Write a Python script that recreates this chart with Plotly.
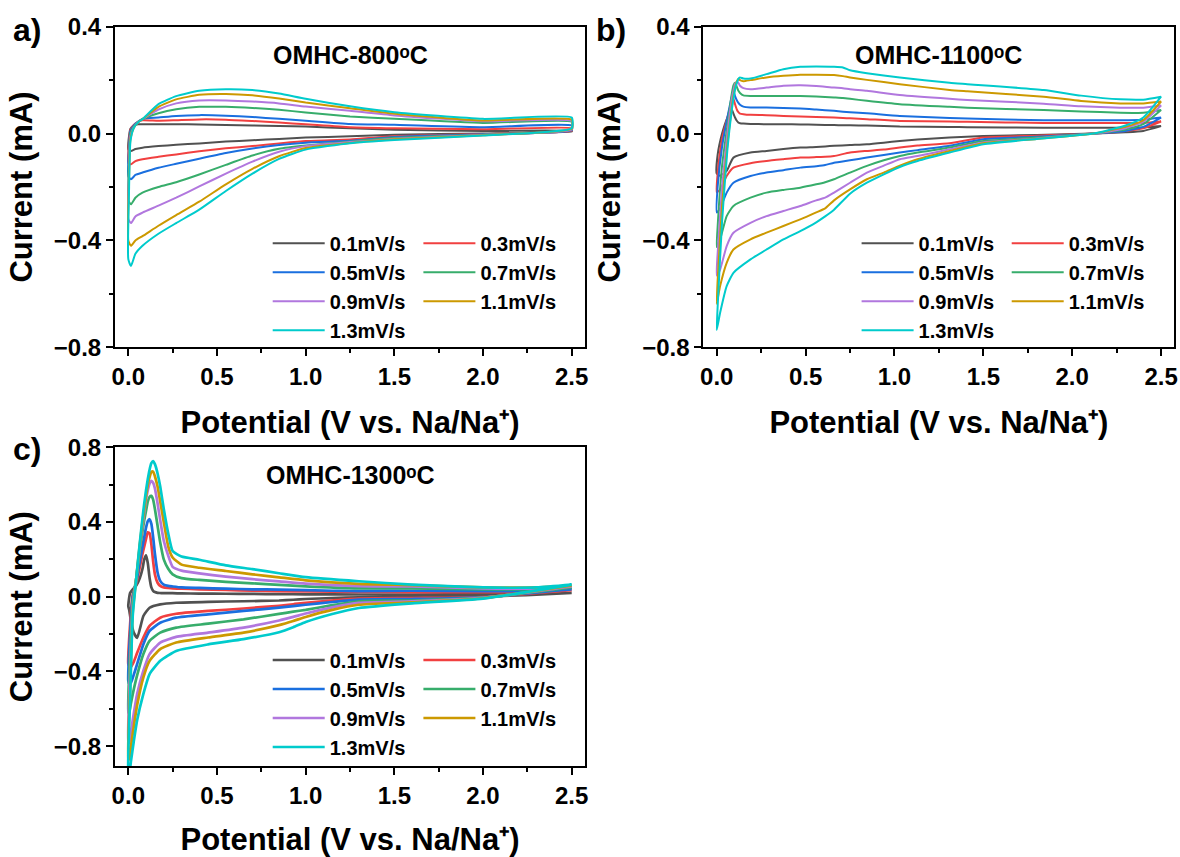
import plotly.graph_objects as go

RATES = ["0.1mV/s", "0.3mV/s", "0.5mV/s", "0.7mV/s", "0.9mV/s", "1.1mV/s", "1.3mV/s"]
COLORS = ["#515151", "#F14040", "#1A6FDF", "#37AD6B", "#B177DE", "#CC9900", "#00CBCC"]

# ---------------- Panel a: OMHC-800°C ----------------
A_CATH_V = [2.5, 2.0, 1.5, 1.25, 1.0, 0.85, 0.7, 0.55, 0.4, 0.27, 0.17, 0.08, 0.04, 0.015]
A_CATH_I = [
    [0.008, 0.0, -0.004, -0.01, -0.015, -0.02, -0.025, -0.03, -0.037, -0.042, -0.047, -0.053, -0.058, -0.065],
    [0.01, -0.002, -0.01, -0.022, -0.028, -0.037, -0.047, -0.055, -0.066, -0.078, -0.087, -0.096, -0.103, -0.115],
    [0.012, -0.003, -0.013, -0.027, -0.034, -0.043, -0.056, -0.073, -0.094, -0.113, -0.128, -0.146, -0.155, -0.171],
    [0.015, -0.004, -0.016, -0.03, -0.045, -0.057, -0.082, -0.117, -0.153, -0.182, -0.2, -0.221, -0.24, -0.265],
    [0.015, -0.005, -0.019, -0.032, -0.047, -0.068, -0.105, -0.15, -0.198, -0.24, -0.27, -0.296, -0.31, -0.335],
    [0.018, -0.006, -0.021, -0.035, -0.054, -0.085, -0.132, -0.19, -0.255, -0.305, -0.345, -0.384, -0.4, -0.42],
    [0.02, -0.007, -0.024, -0.036, -0.06, -0.095, -0.15, -0.215, -0.285, -0.335, -0.375, -0.42, -0.45, -0.496],
]
A_ANOD_V = [0.0, 0.004, 0.012, 0.03, 0.055, 0.08, 0.17, 0.27, 0.4, 0.55, 0.7, 0.85, 1.0, 1.25, 1.5, 2.0, 2.5]
A_ANOD_I = [
    [-0.06, -0.01, 0.018, 0.03, 0.035, 0.035, 0.035, 0.035, 0.034, 0.032, 0.03, 0.028, 0.026, 0.02, 0.014, 0.01, 0.01],
    [-0.11, -0.03, 0.015, 0.032, 0.044, 0.05, 0.048, 0.05, 0.053, 0.052, 0.047, 0.041, 0.035, 0.024, 0.02, 0.016, 0.02],
    [-0.16, -0.05, 0.01, 0.03, 0.045, 0.055, 0.06, 0.066, 0.069, 0.067, 0.062, 0.055, 0.048, 0.036, 0.033, 0.024, 0.03],
    [-0.25, -0.1, 0.0, 0.025, 0.043, 0.054, 0.076, 0.091, 0.1, 0.1, 0.096, 0.089, 0.079, 0.064, 0.055, 0.04, 0.044],
    [-0.32, -0.14, -0.01, 0.022, 0.042, 0.054, 0.09, 0.113, 0.124, 0.124, 0.12, 0.113, 0.101, 0.085, 0.068, 0.046, 0.047],
    [-0.40, -0.18, -0.02, 0.02, 0.042, 0.054, 0.1, 0.128, 0.145, 0.148, 0.143, 0.131, 0.116, 0.095, 0.074, 0.049, 0.052],
    [-0.47, -0.22, -0.03, 0.02, 0.042, 0.054, 0.11, 0.14, 0.16, 0.166, 0.163, 0.15, 0.13, 0.102, 0.08, 0.055, 0.06],
]

# ---------------- Panel b: OMHC-1100°C ----------------
B_CATH_V = [2.5, 2.4, 2.3, 2.12, 1.8, 1.5, 1.31, 1.13, 1.03, 0.94, 0.845, 0.75, 0.66, 0.61, 0.56, 0.47, 0.375, 0.28, 0.19, 0.094, 0.056, 0.019]
B_CATH_I = [
    [0.028, 0.01, 0.005, 0.0, -0.005, -0.009, -0.015, -0.022, -0.0275, -0.034, -0.04, -0.043, -0.046, -0.048, -0.05, -0.0525, -0.058, -0.065, -0.071, -0.09, -0.14, -0.158],
    [0.045, 0.02, 0.01, 0.0, -0.008, -0.015, -0.036, -0.045, -0.0525, -0.06, -0.065, -0.071, -0.084, -0.087, -0.088, -0.09, -0.096, -0.1025, -0.111, -0.1275, -0.159, -0.21],
    [0.06, 0.025, 0.01, 0.0, -0.012, -0.021, -0.046, -0.062, -0.071, -0.08, -0.09, -0.1, -0.109, -0.118, -0.122, -0.1275, -0.137, -0.146, -0.159, -0.184, -0.221, -0.28],
    [0.088, 0.035, 0.015, 0.0, -0.015, -0.028, -0.0525, -0.071, -0.084, -0.1, -0.121, -0.146, -0.171, -0.182, -0.19, -0.2025, -0.211, -0.221, -0.24, -0.271, -0.309, -0.396],
    [0.105, 0.045, 0.02, 0.0, -0.018, -0.033, -0.059, -0.084, -0.096, -0.12, -0.146, -0.184, -0.221, -0.24, -0.25, -0.271, -0.29, -0.309, -0.334, -0.371, -0.421, -0.509],
    [0.12, 0.05, 0.025, 0.0, -0.02, -0.036, -0.065, -0.096, -0.12, -0.146, -0.171, -0.209, -0.25, -0.28, -0.295, -0.321, -0.346, -0.371, -0.396, -0.434, -0.484, -0.571],
    [0.138, 0.06, 0.03, 0.0, -0.02, -0.04, -0.071, -0.1025, -0.125, -0.1525, -0.184, -0.225, -0.285, -0.31, -0.332, -0.365, -0.396, -0.434, -0.471, -0.521, -0.571, -0.671],
]
B_ANOD_V = [0.0, 0.005, 0.03, 0.06, 0.085, 0.094, 0.103, 0.113, 0.122, 0.131, 0.15, 0.19, 0.28, 0.375, 0.47, 0.56, 0.66, 0.71, 0.75, 0.845, 1.03, 1.31, 1.41, 1.84, 2.05, 2.27, 2.4, 2.5]
B_ANOD_I = [
    [-0.15, -0.08, 0.0, 0.06, 0.09, 0.075, 0.06, 0.048, 0.041, 0.039, 0.0375, 0.036, 0.035, 0.035, 0.034, 0.033, 0.032, 0.031, 0.031, 0.03, 0.026, 0.025, 0.024, 0.022, 0.022, 0.022, 0.023, 0.028],
    [-0.22, -0.15, -0.02, 0.06, 0.12, 0.129, 0.11, 0.09, 0.08, 0.075, 0.0725, 0.07, 0.069, 0.066, 0.064, 0.062, 0.06, 0.058, 0.057, 0.054, 0.0475, 0.045, 0.044, 0.04, 0.04, 0.04, 0.04, 0.045],
    [-0.295, -0.2, -0.05, 0.06, 0.14, 0.16, 0.14, 0.125, 0.115, 0.108, 0.101, 0.098, 0.0975, 0.096, 0.094, 0.09, 0.085, 0.082, 0.08, 0.076, 0.066, 0.058, 0.056, 0.05, 0.05, 0.05, 0.052, 0.06],
    [-0.425, -0.35, -0.12, 0.03, 0.15, 0.18, 0.19, 0.175, 0.16, 0.152, 0.143, 0.141, 0.141, 0.141, 0.141, 0.139, 0.135, 0.133, 0.13, 0.1225, 0.11, 0.1, 0.097, 0.088, 0.083, 0.078, 0.078, 0.088],
    [-0.531, -0.45, -0.2, 0.0, 0.13, 0.16, 0.185, 0.195, 0.19, 0.179, 0.17, 0.166, 0.172, 0.179, 0.181, 0.178, 0.172, 0.17, 0.166, 0.16, 0.144, 0.13, 0.126, 0.112, 0.102, 0.097, 0.097, 0.105],
    [-0.637, -0.55, -0.27, -0.04, 0.1, 0.14, 0.17, 0.195, 0.205, 0.2, 0.196, 0.2, 0.21, 0.216, 0.22, 0.22, 0.219, 0.215, 0.21, 0.201, 0.185, 0.163, 0.158, 0.138, 0.122, 0.113, 0.113, 0.12],
    [-0.735, -0.65, -0.33, -0.06, 0.09, 0.13, 0.165, 0.19, 0.205, 0.21, 0.206, 0.206, 0.2225, 0.241, 0.25, 0.251, 0.25, 0.2475, 0.237, 0.226, 0.21, 0.19, 0.185, 0.163, 0.142, 0.128, 0.127, 0.138],
]

# ---------------- Panel c: OMHC-1300°C ----------------
C_CATH_V = [2.5, 2.0, 1.6, 1.3, 1.15, 1.0, 0.93, 0.85, 0.65, 0.45, 0.27, 0.18, 0.12, 0.085, 0.05, 0.03, 0.015, 0.005]
C_CATH_I = [
    [0.02, 0.0, -0.002, -0.003, -0.007, -0.012, -0.016, -0.02, -0.024, -0.027, -0.032, -0.041, -0.059, -0.103, -0.22, -0.19, -0.13, -0.07],
    [0.035, -0.002, -0.007, -0.01, -0.02, -0.032, -0.04, -0.048, -0.063, -0.076, -0.091, -0.112, -0.156, -0.218, -0.3, -0.35, -0.375, -0.37],
    [0.04, -0.003, -0.012, -0.015, -0.028, -0.043, -0.05, -0.058, -0.076, -0.094, -0.112, -0.139, -0.183, -0.254, -0.36, -0.42, -0.46, -0.465],
    [0.05, -0.005, -0.02, -0.024, -0.045, -0.07, -0.08, -0.092, -0.121, -0.144, -0.165, -0.192, -0.236, -0.307, -0.42, -0.5, -0.57, -0.62],
    [0.055, -0.006, -0.025, -0.033, -0.057, -0.09, -0.108, -0.127, -0.165, -0.192, -0.215, -0.245, -0.307, -0.396, -0.52, -0.63, -0.72, -0.78],
    [0.06, -0.008, -0.03, -0.043, -0.07, -0.108, -0.13, -0.152, -0.192, -0.218, -0.245, -0.28, -0.343, -0.432, -0.58, -0.7, -0.8, -0.87],
    [0.065, -0.01, -0.035, -0.06, -0.092, -0.135, -0.163, -0.19, -0.227, -0.255, -0.29, -0.343, -0.414, -0.52, -0.66, -0.78, -0.88, -0.95],
]
C_ANOD_V = [0.0, 0.01, 0.025, 0.045, 0.065, 0.08, 0.09, 0.1, 0.11, 0.12, 0.13, 0.14, 0.15, 0.165, 0.18, 0.2, 0.225, 0.25, 0.3, 0.4, 0.55, 0.7, 0.85, 1.0, 1.3, 1.6, 2.0, 2.3, 2.5]
C_ANOD_I = [
    [-0.05, 0.02, 0.04, 0.06, 0.1, 0.15, 0.2, 0.222, 0.18, 0.1, 0.05, 0.032, 0.025, 0.021, 0.02, 0.019, 0.019, 0.019, 0.018, 0.017, 0.016, 0.015, 0.014, 0.013, 0.012, 0.012, 0.013, 0.015, 0.02],
    [-0.36, -0.15, 0.01, 0.07, 0.16, 0.23, 0.27, 0.31, 0.345, 0.34, 0.28, 0.19, 0.12, 0.075, 0.058, 0.05, 0.047, 0.045, 0.043, 0.04, 0.036, 0.033, 0.03, 0.028, 0.026, 0.025, 0.025, 0.026, 0.035],
    [-0.45, -0.2, 0.0, 0.08, 0.19, 0.27, 0.32, 0.37, 0.405, 0.415, 0.39, 0.32, 0.23, 0.13, 0.085, 0.065, 0.058, 0.055, 0.05, 0.047, 0.043, 0.04, 0.038, 0.035, 0.03, 0.032, 0.03, 0.03, 0.04],
    [-0.62, -0.3, -0.02, 0.1, 0.25, 0.35, 0.41, 0.46, 0.51, 0.535, 0.54, 0.52, 0.47, 0.38, 0.29, 0.2, 0.15, 0.12, 0.1, 0.09, 0.08, 0.072, 0.064, 0.056, 0.045, 0.045, 0.04, 0.04, 0.05],
    [-0.78, -0.4, -0.05, 0.1, 0.27, 0.38, 0.45, 0.52, 0.57, 0.605, 0.62, 0.61, 0.58, 0.5, 0.41, 0.3, 0.22, 0.16, 0.14, 0.125, 0.108, 0.094, 0.082, 0.07, 0.057, 0.055, 0.045, 0.045, 0.055],
    [-0.87, -0.5, -0.08, 0.1, 0.28, 0.4, 0.47, 0.54, 0.6, 0.64, 0.668, 0.67, 0.645, 0.59, 0.51, 0.4, 0.27, 0.21, 0.172, 0.155, 0.138, 0.12, 0.104, 0.088, 0.069, 0.062, 0.05, 0.05, 0.06],
    [-0.95, -0.55, -0.1, 0.1, 0.29, 0.42, 0.5, 0.57, 0.63, 0.68, 0.715, 0.726, 0.71, 0.66, 0.59, 0.47, 0.34, 0.245, 0.215, 0.198, 0.168, 0.148, 0.126, 0.105, 0.083, 0.065, 0.05, 0.05, 0.065],
]

TITLES = ["OMHC-800\u1d52C", "OMHC-1100\u1d52C", "OMHC-1300\u1d52C"]
PANEL_LABELS = ["a)", "b)", "c)"]
X_TITLE = "Potential (V vs. Na/Na\u207a)"
Y_TITLE = "Current (mA)"

FONT = "Liberation Sans, Arial, sans-serif"
W, H = 1180, 857

# plot frames in pixels (left, right, top, bottom)
FRAMES = [(115, 585, 26.7, 347.3), (703.4, 1174.4, 26.7, 347.3), (115, 585, 447.3, 766.0)]
YRANGES = [[-0.8, 0.4], [-0.8, 0.4], [-0.906, 0.8]]
LINE_W = [2.0, 2.0, 2.7]
# legend first-row centre (px) and line start x (px) for the two columns
LEG_ROW0 = [243.3, 243.3, 660.0]
LEG_COLX = [(272.7, 423.4), (861.6, 1011.7), (272.7, 423.4)]
PANEL_LABEL_POS = [(27, 30), (611, 30), (27, 449)]

panels = [
    (A_CATH_V, A_CATH_I, A_ANOD_V, A_ANOD_I),
    (B_CATH_V, B_CATH_I, B_ANOD_V, B_ANOD_I),
    (C_CATH_V, C_CATH_I, C_ANOD_V, C_ANOD_I),
]

fig = go.Figure()
layout = dict(
    template="none",
    width=W, height=H, margin=dict(l=0, r=0, t=0, b=0, pad=0, autoexpand=False),
    paper_bgcolor="white", plot_bgcolor="white",
    font=dict(family=FONT, color="black", weight="bold"),
    annotations=[],
)

for p, (cv, ci, av, ai) in enumerate(panels):
    xa = "x" if p == 0 else f"x{p+1}"
    ya = "y" if p == 0 else f"y{p+1}"
    for k, rate in enumerate(RATES):
        leg_idx = 2 * p + (0 if k % 2 == 0 else 1) + 1
        leg_name = "legend" if leg_idx == 1 else f"legend{leg_idx}"
        # closed CV loop: cathodic sweep, anodic sweep, back to start
        xs = list(cv) + list(av) + [cv[0]]
        ys = list(ci[k]) + list(ai[k]) + [ci[k][0]]
        fig.add_trace(go.Scatter(
            x=xs, y=ys, mode="lines", name=rate,
            line=dict(color=COLORS[k], width=LINE_W[p], shape="spline", smoothing=0.5),
            xaxis=xa, yaxis=ya, legend=leg_name, showlegend=True,
        ))
    l, r, t, b = FRAMES[p]
    axis_common = dict(
        showline=True, linecolor="black", linewidth=2, mirror=True,
        ticks="outside", ticklen=7, tickwidth=2, tickcolor="black",
        showgrid=False, zeroline=False, automargin=False,
        tickfont=dict(family=FONT, size=24, color="black", weight="bold"),
        tickformat=".1f",
    )
    xkey = "xaxis" if p == 0 else f"xaxis{p+1}"
    ykey = "yaxis" if p == 0 else f"yaxis{p+1}"
    layout[xkey] = dict(
        axis_common, domain=[l / W, r / W], anchor=ya,
        range=[-0.075, 2.575], tick0=0, dtick=0.5,
        minor=dict(dtick=0.25, ticks="outside", ticklen=4, tickwidth=2, tickcolor="black", showgrid=False),
        title=dict(text=X_TITLE, font=dict(family=FONT, size=31, color="black", weight="bold"), standoff=22),
    )
    layout[ykey] = dict(
        axis_common, domain=[1 - b / H, 1 - t / H], anchor=xa,
        range=YRANGES[p], tick0=0, dtick=0.4,
        minor=dict(dtick=0.2, ticks="outside", ticklen=4, tickwidth=2, tickcolor="black", showgrid=False),
        title=dict(text=Y_TITLE, font=dict(family=FONT, size=31, color="black", weight="bold"), standoff=12),
    )
    # sample title inside the frame
    layout["annotations"].append(dict(
        text=TITLES[p], xref=f"{xa} domain", yref=f"{ya} domain", x=0.5, y=0.912,
        xanchor="center", yanchor="middle", showarrow=False,
        font=dict(family=FONT, size=25, color="black", weight="bold"),
    ))
    # panel letter
    px, py = PANEL_LABEL_POS[p]
    layout["annotations"].append(dict(
        text=PANEL_LABELS[p], xref="paper", yref="paper",
        x=px / W, y=1 - py / H, xanchor="center", yanchor="middle", showarrow=False,
        font=dict(family=FONT, size=32, color="black", weight="bold"),
    ))
    # two legend columns
    for c in range(2):
        leg_idx = 2 * p + c + 1
        leg_name = "legend" if leg_idx == 1 else f"legend{leg_idx}"
        layout[leg_name] = dict(
            x=(LEG_COLX[p][c] - 5) / W, y=1 - (LEG_ROW0[p] - 19.5) / H,
            xanchor="left", yanchor="top", orientation="v",
            bgcolor="rgba(0,0,0,0)", borderwidth=0, itemwidth=52, tracegroupgap=0,
            font=dict(family=FONT, size=20, color="black", weight="bold"),
        )

fig.update_layout(**layout)
fig.write_html("out.html")
